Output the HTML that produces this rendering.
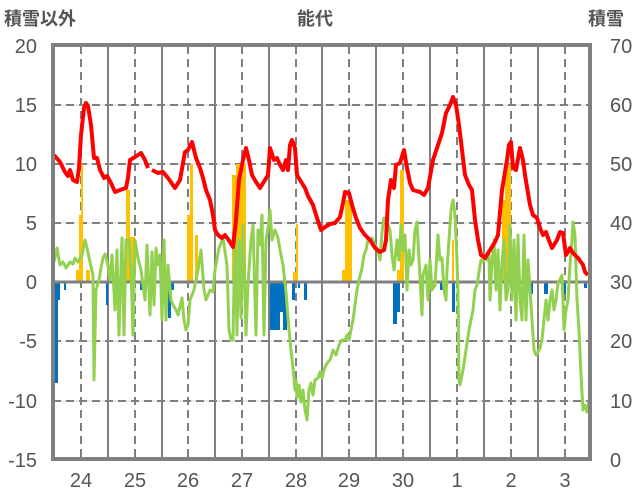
<!DOCTYPE html>
<html><head><meta charset="utf-8"><style>
body{margin:0;background:#fff;}
svg{display:block;font-family:"Liberation Sans","Noto Sans CJK JP",sans-serif;}
</style></head><body>
<svg width="636" height="501" viewBox="0 0 636 501">
<g fill="#555" font-size="20" font-weight="bold" style="font-weight:600">
<text x="4" y="25" font-size="18">積雪以外</text>
<text x="315" y="25" text-anchor="middle" font-size="18">能代</text>
<text x="588" y="25" font-size="18">積雪</text>
<g text-anchor="end" font-weight="normal">
<text x="37" y="53">20</text><text x="37" y="112">15</text><text x="37" y="171">10</text>
<text x="37" y="230">5</text><text x="37" y="289">0</text><text x="37" y="348">-5</text>
<text x="37" y="408">-10</text><text x="37" y="467">-15</text></g>
<g text-anchor="start" font-weight="normal">
<text x="610" y="53">70</text><text x="610" y="112">60</text><text x="610" y="171">50</text>
<text x="610" y="230">40</text><text x="610" y="289">30</text><text x="610" y="348">20</text>
<text x="610" y="408">10</text><text x="610" y="467">0</text></g>
<g text-anchor="middle" font-weight="normal">
<text x="81" y="487">24</text><text x="135" y="487">25</text><text x="188" y="487">26</text>
<text x="242" y="487">27</text><text x="296" y="487">28</text><text x="349" y="487">29</text>
<text x="403" y="487">30</text><text x="457" y="487">1</text><text x="511" y="487">2</text>
<text x="565" y="487">3</text></g>
</g>
<g stroke="#d9d9d9" stroke-width="1">
<line x1="53" y1="105" x2="590" y2="105"/><line x1="53" y1="164" x2="590" y2="164"/>
<line x1="53" y1="223" x2="590" y2="223"/><line x1="53" y1="341" x2="590" y2="341"/>
<line x1="53" y1="401" x2="590" y2="401"/></g>
<g stroke="#808080" stroke-width="2" stroke-dasharray="8,5">
<line x1="53" y1="105" x2="590" y2="105"/><line x1="53" y1="164" x2="590" y2="164"/>
<line x1="53" y1="223" x2="590" y2="223"/><line x1="53" y1="341" x2="590" y2="341"/>
<line x1="53" y1="401" x2="590" y2="401"/>
<line x1="81" y1="46" x2="81" y2="459"/><line x1="135" y1="46" x2="135" y2="459"/>
<line x1="188" y1="46" x2="188" y2="459"/><line x1="242" y1="46" x2="242" y2="459"/>
<line x1="296" y1="46" x2="296" y2="459"/><line x1="349" y1="46" x2="349" y2="459"/>
<line x1="403" y1="46" x2="403" y2="459"/><line x1="457" y1="46" x2="457" y2="459"/>
<line x1="511" y1="46" x2="511" y2="459"/><line x1="565" y1="46" x2="565" y2="459"/>
</g>
<g stroke="#808080" stroke-width="2">
<line x1="108" y1="46" x2="108" y2="459"/><line x1="162" y1="46" x2="162" y2="459"/>
<line x1="215" y1="46" x2="215" y2="459"/><line x1="269" y1="46" x2="269" y2="459"/>
<line x1="322" y1="46" x2="322" y2="459"/><line x1="376" y1="46" x2="376" y2="459"/>
<line x1="430" y1="46" x2="430" y2="459"/><line x1="484" y1="46" x2="484" y2="459"/>
<line x1="538" y1="46" x2="538" y2="459"/>
</g>
<g fill="#ffc000">
<rect x="76" y="270" width="3" height="12"/><rect x="79" y="215" width="2" height="67"/><rect x="81" y="164" width="2" height="118"/>
<rect x="86" y="270" width="4" height="12"/>
<rect x="126" y="190" width="4" height="92"/><rect x="130" y="237" width="5" height="45"/>
<rect x="187" y="215" width="3" height="67"/><rect x="190" y="164" width="3" height="118"/><rect x="195" y="235" width="3" height="47"/>
<rect x="232" y="175" width="4" height="107"/><rect x="236" y="164" width="10" height="118"/>
<rect x="296" y="224" width="2" height="58"/><rect x="293" y="272" width="4" height="10"/>
<rect x="345" y="200" width="7" height="82"/><rect x="342" y="270" width="3" height="12"/>
<rect x="400" y="170" width="4" height="112"/><rect x="397" y="270" width="3" height="12"/>
<rect x="452" y="240" width="2" height="42"/>
<rect x="502" y="200" width="3" height="82"/><rect x="505" y="164" width="6" height="118"/>
</g>
<g fill="#0070c0">
<rect x="55" y="282" width="3" height="101"/><rect x="58" y="282" width="2" height="18"/><rect x="64" y="282" width="2" height="8"/>
<rect x="106" y="282" width="2" height="23"/><rect x="140" y="282" width="3" height="8"/>
<rect x="165" y="282" width="3" height="20"/><rect x="168" y="282" width="3" height="36"/><rect x="171" y="282" width="3" height="8"/>
<rect x="270" y="282" width="4" height="48"/><rect x="274" y="282" width="6" height="48"/><rect x="280" y="282" width="3" height="30"/><rect x="283" y="282" width="4" height="48"/>
<rect x="292" y="282" width="3" height="18"/><rect x="304" y="282" width="3" height="18"/><rect x="298" y="282" width="2" height="6"/>
<rect x="393" y="282" width="4" height="42"/><rect x="397" y="282" width="3" height="30"/>
<rect x="440" y="282" width="6" height="8"/><rect x="452" y="282" width="3" height="30"/>
<rect x="530" y="282" width="3" height="12"/><rect x="544" y="282" width="4" height="12"/><rect x="563" y="282" width="3" height="12"/><rect x="584" y="282" width="3" height="6"/>
</g>
<line x1="53" y1="282" x2="590" y2="282" stroke="#808080" stroke-width="3"/>
<polyline fill="none" stroke="#92d050" stroke-width="3" stroke-linejoin="round" points="54,262 57,248 60,265 63,262 66,268 70,262 73,264 75,258 78,262 82,255 85,240 87,248 90,262 93,275 94,380 96,290 99,280 101,268 103,258 105,254 108,265 110,280 112,255 115,310 117,250 119,335 122,238 124,335 126,240 129,240 131,270 133,335 135,240 138,258 141,270 145,300 147,245 150,315 152,252 154,305 156,248 158,265 160,255 162,320 164,240 166,320 168,265 171,300 173,305 176,310 178,315 182,298 184,320 186,330 188,325 190,300 194,290 198,270 201,250 204,290 206,300 210,290 213,292 215,270 219,248 223,238 227,265 229,330 231,340 233,340 235,230 237,335 239,240 241,318 243,225 246,335 248,285 251,240 253,225 256,335 258,230 260,245 262,215 264,335 266,240 268,228 270,210 272,240 275,230 278,238 280,250 283,265 286,292 289,330 291,350 293,368 295,390 296,380 297,398 299,385 301,402 303,390 305,410 307,420 309,390 311,383 313,395 315,380 318,378 320,372 322,378 324,370 326,365 328,362 330,360 333,350 336,355 339,345 342,340 345,340 347,335 349,340 351,330 353,320 355,305 357,290 359,280 362,268 364,255 366,250 368,240 370,240 372,238 375,245 378,250 380,260 382,232 384,218 387,222 390,230 392,255 394,270 397,240 399,260 401,225 403,250 405,235 407,290 409,250 411,265 413,260 415,230 417,222 420,278 422,315 423,275 426,265 428,300 430,260 432,290 435,285 438,235 440,260 442,258 444,290 446,300 447,270 449,240 451,210 453,200 455,215 457,260 458,290 459,380 460,385 463,370 466,350 469,330 471,320 473,310 475,290 477,285 479,272 481,260 483,262 485,258 487,260 489,255 490,300 492,262 494,240 496,290 498,250 500,310 502,262 504,240 506,300 508,290 510,225 512,300 514,240 516,320 518,235 520,300 522,320 524,235 526,320 528,260 530,290 532,320 534,350 536,355 538,352 540,348 542,340 544,320 546,300 548,320 550,300 552,290 554,310 556,300 558,283 560,280 562,275 564,330 566,310 568,300 570,265 572,240 573,222 575,235 577,300 579,330 581,375 583,410 585,405 587,412 589,402 590,400"/>
<g fill="none" stroke="#ff0000" stroke-width="4" stroke-linejoin="round">
<polyline points="54,155 60,162 65,172 68,176 70,170 73,180 77,182 79,168 81,135 84,108 86,103 88,106 91,125 94,158 97,158 100,170 104,178 107,176 111,183 115,192 120,190 126,188 128,178 130,160 135,157 141,153 145,160 148,168"/>
<polyline points="152,170 158,173 163,172 168,178 175,188 180,180 185,152 188,150 192,142 196,158 200,168 203,178 206,190 210,200 213,215 215,230 218,235 222,238 225,235 230,242 233,247 236,220 239,180 243,160 246,148 249,160 252,175 256,182 260,188 265,180 268,175 270,148 274,160 277,158 280,165 283,170 286,160 288,170 290,145 292,140 295,148 297,175 300,180 305,188 308,196 313,205 317,218 321,230 325,227 330,224 335,223 340,217 343,203 345,192 349,193 352,205 356,218 360,228 365,235 370,240 375,248 380,252 384,250 386,240 388,200 391,180 394,188 396,165 400,163 404,150 407,168 410,183 413,190 420,192 424,195 428,188 433,160 437,148 442,133 446,113 450,105 453,97 456,105 459,125 462,150 465,175 469,185 472,190 475,220 478,240 481,255 485,258 490,250 495,242 498,235 502,190 507,160 509,145 511,142 513,168 516,170 520,148 523,160 525,175 530,205 533,215 537,218 540,228 543,235 546,232 548,238 552,248 557,240 560,232 563,233 566,255 570,248 573,253 578,258 583,265 585,272 588,275"/>
</g>
<line x1="53" y1="459" x2="590" y2="459" stroke="#7030a0" stroke-width="4"/>
<rect x="53" y="45" width="537" height="414" fill="none" stroke="#808080" stroke-width="4"/>
</svg>
</body></html>
